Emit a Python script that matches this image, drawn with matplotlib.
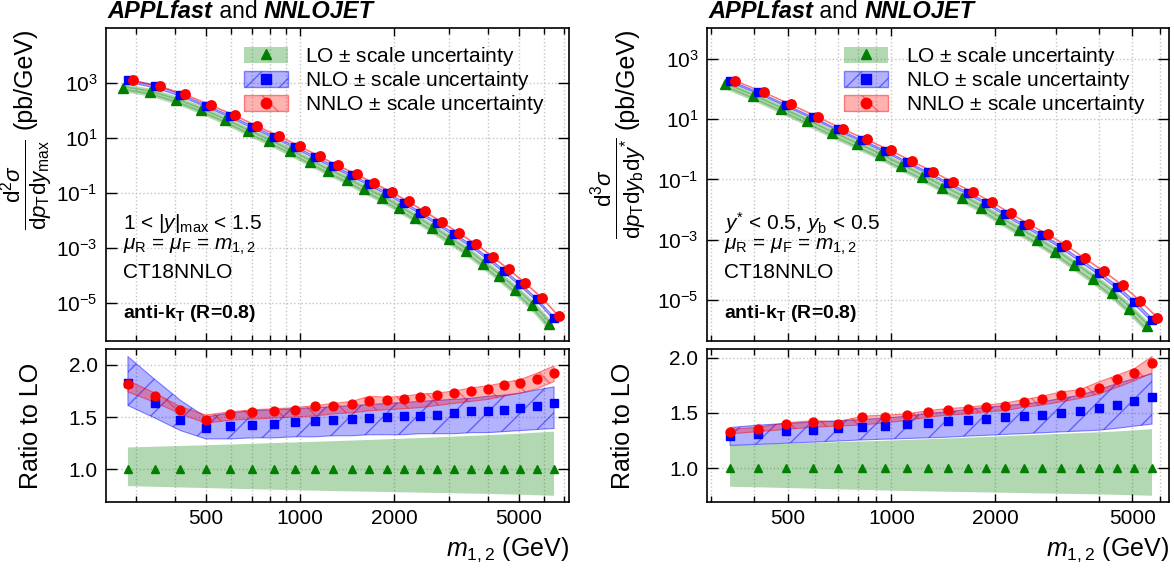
import numpy as np
import matplotlib
matplotlib.use("Agg")
import matplotlib.pyplot as plt
import matplotlib.patches as mpatches
from matplotlib.lines import Line2D
from matplotlib.ticker import FixedLocator, NullFormatter, LogFormatterSciNotation, NullLocator, FixedFormatter

plt.rcParams['font.family'] = ['Liberation Sans', 'DejaVu Sans']
plt.rcParams['mathtext.fontset'] = 'custom'
plt.rcParams['mathtext.rm'] = 'Liberation Sans'
plt.rcParams['mathtext.it'] = 'Liberation Sans:italic'
plt.rcParams['mathtext.bf'] = 'Liberation Sans:bold'
plt.rcParams['axes.linewidth'] = 1.2

# ---------------- data ----------------
# left panel: 1 < |y|max < 1.5
mass_left = [282, 344, 415, 500, 598, 705, 828, 965, 1117, 1273, 1464, 1666,
             1894, 2146, 2420, 2735, 3107, 3528, 3998, 4487, 5060, 5708, 6483]
lo_left = [698, 474, 251, 110, 45, 18, 7.9, 3.3, 1.4, 0.66, 0.31, 0.14, 0.068,
           0.030, 0.013, 0.0054, 0.0021, 8.1e-4, 2.7e-4, 9.5e-5, 3.0e-5, 8.5e-6, 1.7e-6]
lo_up_left = [1.208, 1.215, 1.222, 1.229, 1.236, 1.243, 1.250, 1.256, 1.262, 1.268, 1.274, 1.280,
              1.286, 1.292, 1.298, 1.305, 1.312, 1.319, 1.326, 1.333, 1.340, 1.350, 1.360]
lo_dn_left = [0.837, 0.830, 0.824, 0.818, 0.812, 0.807, 0.802, 0.797, 0.793, 0.789, 0.786, 0.783,
              0.780, 0.777, 0.774, 0.771, 0.768, 0.765, 0.762, 0.758, 0.754, 0.749, 0.744]
nlo_ratio_left = [1.831, 1.633, 1.476, 1.393, 1.409, 1.422, 1.435, 1.450, 1.463, 1.470, 1.479, 1.492,
                  1.502, 1.505, 1.514, 1.524, 1.540, 1.553, 1.562, 1.572, 1.591, 1.604, 1.636]
nlo_up_left = [2.08, 1.86, 1.66, 1.50, 1.54, 1.56, 1.57, 1.58, 1.59, 1.60, 1.61, 1.62,
               1.63, 1.64, 1.65, 1.66, 1.67, 1.68, 1.70, 1.71, 1.73, 1.76, 1.79]
nlo_dn_left = [1.61, 1.49, 1.37, 1.29, 1.29, 1.30, 1.30, 1.31, 1.31, 1.32, 1.32, 1.33,
               1.33, 1.33, 1.34, 1.34, 1.34, 1.35, 1.35, 1.36, 1.37, 1.38, 1.39]
nnlo_ratio_left = [1.815, 1.703, 1.572, 1.476, 1.527, 1.550, 1.556, 1.572, 1.601, 1.607, 1.623, 1.658,
                   1.661, 1.674, 1.696, 1.712, 1.728, 1.751, 1.770, 1.808, 1.824, 1.869, 1.923]
nnlo_up_left = [1.85, 1.73, 1.60, 1.52, 1.55, 1.57, 1.58, 1.59, 1.61, 1.63, 1.65, 1.70,
                1.69, 1.70, 1.72, 1.73, 1.75, 1.78, 1.80, 1.83, 1.86, 1.92, 1.99]
nnlo_dn_left = [1.74, 1.64, 1.53, 1.44, 1.47, 1.48, 1.49, 1.50, 1.51, 1.53, 1.54, 1.56,
                1.57, 1.58, 1.59, 1.61, 1.63, 1.65, 1.67, 1.70, 1.73, 1.77, 1.84]

# right panel: y* < 0.5, yb < 0.5
mass_right = [340, 411, 494, 591, 698, 821, 959, 1106, 1275, 1457, 1664, 1885,
              2139, 2424, 2738, 3102, 3521, 3997, 4515, 5068, 5702]
lo_right = [141, 57.8, 22, 8.4, 3.35, 1.45, 0.64, 0.277, 0.122, 0.054, 0.0253, 0.0118,
            0.00484, 0.00209, 9.7e-4, 4.0e-4, 1.44e-4, 5.2e-5, 1.75e-5, 5.3e-6, 1.38e-6]
lo_up_right = [1.205, 1.213, 1.220, 1.227, 1.234, 1.241, 1.248, 1.255, 1.262, 1.268, 1.275,
               1.282, 1.289, 1.296, 1.303, 1.310, 1.317, 1.324, 1.332, 1.342, 1.352]
lo_dn_right = [0.831, 0.826, 0.820, 0.814, 0.808, 0.803, 0.798, 0.793, 0.789, 0.786, 0.783,
               0.780, 0.777, 0.774, 0.771, 0.768, 0.765, 0.762, 0.758, 0.754, 0.750]
nlo_ratio_right = [1.292, 1.313, 1.334, 1.349, 1.361, 1.373, 1.383, 1.398, 1.410, 1.422, 1.434,
                   1.443, 1.458, 1.467, 1.482, 1.503, 1.521, 1.545, 1.569, 1.605, 1.639]
nlo_up_right = [1.367, 1.389, 1.404, 1.416, 1.428, 1.440, 1.452, 1.470, 1.494, 1.510, 1.530,
                1.550, 1.565, 1.580, 1.600, 1.630, 1.660, 1.710, 1.765, 1.810, 1.855]
nlo_dn_right = [1.205, 1.215, 1.225, 1.235, 1.245, 1.255, 1.262, 1.268, 1.274, 1.280, 1.290,
                1.297, 1.305, 1.312, 1.320, 1.328, 1.335, 1.343, 1.360, 1.380, 1.398]
nnlo_ratio_right = [1.328, 1.355, 1.398, 1.419, 1.395, 1.458, 1.458, 1.479, 1.506, 1.527, 1.539,
                    1.557, 1.566, 1.599, 1.627, 1.666, 1.687, 1.729, 1.804, 1.858, 1.952]
nnlo_up_right = [1.35, 1.37, 1.41, 1.43, 1.42, 1.47, 1.48, 1.49, 1.52, 1.54, 1.55,
                 1.57, 1.59, 1.62, 1.65, 1.69, 1.71, 1.78, 1.84, 1.90, 2.01]
nnlo_dn_right = [1.31, 1.33, 1.35, 1.37, 1.38, 1.39, 1.41, 1.43, 1.46, 1.48, 1.49,
                 1.51, 1.52, 1.55, 1.57, 1.60, 1.63, 1.67, 1.73, 1.79, 1.86]

xticks_major = [500, 1000, 2000, 5000]
xticks_minor = [300, 400, 600, 700, 800, 900, 3000, 4000, 6000, 7000]
yticks_top = [1e-5, 1e-3, 1e-1, 1e1, 1e3]
yticks_ratio = [1.0, 1.5, 2.0]

C_LO, C_NLO, C_NNLO = '#008000', '#0000ff', '#ff0000'
FACE_LO = (0.0, 0.5, 0.0, 0.3)
FACE_NLO = (0.0, 0.0, 1.0, 0.3)
FACE_NNLO = (1.0, 0.0, 0.0, 0.3)
EDGE_NLO = (0.0, 0.0, 1.0, 0.45)
EDGE_NNLO = (1.0, 0.0, 0.0, 0.45)

fig = plt.figure(figsize=(11.74, 5.70), dpi=100)

GRID = dict(color='#c4c4c4', linestyle=':', linewidth=1.0)


def style_axes(ax, xlim):
    ax.set_xscale('log')
    ax.set_xlim(*xlim)
    ax.xaxis.set_major_locator(FixedLocator(xticks_major))
    ax.xaxis.set_minor_locator(FixedLocator(xticks_minor))
    ax.xaxis.set_minor_formatter(NullFormatter())
    ax.tick_params(axis='x', which='major', direction='in', length=5.5, width=1.0,
                   top=True, bottom=True, labelsize=15, pad=5)
    ax.tick_params(axis='x', which='minor', direction='in', length=4.5, width=1.0,
                   top=True, bottom=True)
    ax.tick_params(axis='y', which='major', direction='in', length=8, width=1.0,
                   left=True, right=True, labelsize=15, pad=6)
    ax.yaxis.set_minor_locator(NullLocator())
    ax.grid(True, which='both', axis='x', **GRID)
    ax.grid(True, which='major', axis='y', **GRID)
    ax.set_axisbelow(True)


def panel(left, width, mass, lo, lo_up, lo_dn, nlo_r, nlo_up, nlo_dn,
          nnlo_r, nnlo_up, nnlo_dn, xlim, ylim_top, ylim_rat, frac, unit_x, frac_xy,
          rat_x, notes):
    m = np.array(mass, float)
    lo = np.array(lo, float)
    axt = fig.add_axes([left, 0.4023, width, 0.5491])
    axr = fig.add_axes([left, 0.1198, width, 0.2674])

    # ---- top panel ----
    shift = 1.037
    m_lo, m_nnlo = m / shift, m * shift
    axt.fill_between(m_lo, lo * np.array(lo_dn), lo * np.array(lo_up), facecolor=FACE_LO,
                     edgecolor=FACE_LO, linewidth=2.5, zorder=2)
    nlo = lo * np.array(nlo_r)
    nnlo = lo * np.array(nnlo_r)
    axt.fill_between(m, lo * np.array(nlo_dn), lo * np.array(nlo_up), facecolor=FACE_NLO,
                     edgecolor=EDGE_NLO, linewidth=0.8, zorder=3)
    axt.fill_between(m_nnlo, lo * np.array(nnlo_dn), lo * np.array(nnlo_up), facecolor=FACE_NNLO,
                     edgecolor=EDGE_NNLO, linewidth=0.8, zorder=3)
    axt.plot(m_lo, lo, linestyle='none', marker='^', ms=7, color=C_LO, zorder=5)
    axt.plot(m, nlo, linestyle='none', marker='s', ms=6, color=C_NLO, zorder=6)
    axt.plot(m_nnlo, nnlo, linestyle='none', marker='o', ms=6.8, color=C_NNLO, zorder=7)
    axt.set_yscale('log')
    style_axes(axt, xlim)
    axt.set_ylim(*ylim_top)
    axt.yaxis.set_major_locator(FixedLocator(yticks_top))
    axt.yaxis.set_major_formatter(LogFormatterSciNotation())
    axt.tick_params(axis='x', labelbottom=False)

    # y label: unit and fraction as two rotated texts
    axt.text(unit_x, 1.0, '(pb/GeV)', transform=axt.transAxes, rotation=90,
             fontsize=18, ha='center', va='top')
    axt.text(frac_xy[0], frac_xy[1], frac, transform=axt.transAxes, rotation=90,
             fontsize=23, ha='center', va='center')

    # legend
    h_lo = (mpatches.Patch(facecolor=FACE_LO, edgecolor='none'),
            Line2D([], [], linestyle='none', marker='^', ms=7.5, color=C_LO))
    h_nlo = (mpatches.Patch(facecolor=FACE_NLO, edgecolor=EDGE_NLO, hatch='/', linewidth=1.0),
             Line2D([], [], linestyle='none', marker='s', ms=6.5, color=C_NLO))
    h_nnlo = (mpatches.Patch(facecolor=FACE_NNLO, edgecolor=EDGE_NNLO, hatch='\\', linewidth=1.0),
              Line2D([], [], linestyle='none', marker='o', ms=7.5, color=C_NNLO))
    axt.legend([h_lo, h_nlo, h_nnlo],
               [r'LO $\pm$ scale uncertainty', r'NLO $\pm$ scale uncertainty',
                r'NNLO $\pm$ scale uncertainty'],
               loc='upper left', bbox_to_anchor=(0.298, 0.945), frameon=False, fontsize=15,
               borderpad=0, borderaxespad=0, handlelength=2.1, handleheight=0.8,
               handletextpad=0.85, labelspacing=0.06)

    # annotations
    ys = [0.376, 0.299, 0.219]
    for y, txt in zip(ys, notes):
        axt.text(0.037, y, txt, transform=axt.transAxes, fontsize=15, va='center', ha='left')
    axt.text(0.037, 0.088, r'anti-k$_\mathbf{T}$ (R=0.8)', transform=axt.transAxes,
             fontsize=14, fontweight='bold', va='center', ha='left')

    # title
    t1 = axt.text(0.004, 1.015, 'APPLfast', transform=axt.transAxes, fontsize=17,
                  fontweight='bold', fontstyle='italic', va='bottom', ha='left')
    t2 = axt.annotate(' and ', xy=(1, 0), xycoords=t1, fontsize=16.5, va='bottom', ha='left')
    axt.annotate('NNLOJET', xy=(1, 0), xycoords=t2, fontsize=17, fontweight='bold',
                 fontstyle='italic', va='bottom', ha='left')

    # ---- ratio panel ----
    lo_ratio = lo / lo
    axr.fill_between(m, lo_dn, lo_up, facecolor=FACE_LO, edgecolor='none', zorder=2)
    axr.fill_between(m, nlo_dn, nlo_up, facecolor=FACE_NLO, edgecolor=EDGE_NLO, hatch='/',
                     linewidth=0.8, zorder=3)
    axr.fill_between(m, nnlo_dn, nnlo_up, facecolor=FACE_NNLO, edgecolor=EDGE_NNLO, hatch='\\',
                     linewidth=0.8, zorder=4)
    axr.plot(m, lo_ratio, linestyle='none', marker='^', ms=6.2, color=C_LO, zorder=5)
    axr.plot(m, nlo_r, linestyle='none', marker='s', ms=5.8, color=C_NLO, zorder=6)
    axr.plot(m, nnlo_r, linestyle='none', marker='o', ms=6.4, color=C_NNLO, zorder=7)
    style_axes(axr, xlim)
    axr.set_ylim(*ylim_rat)
    axr.yaxis.set_major_locator(FixedLocator(yticks_ratio))
    axr.yaxis.set_major_formatter(FixedFormatter(['1.0', '1.5', '2.0']))
    axr.xaxis.set_major_formatter(FixedFormatter([str(v) for v in xticks_major]))
    axr.set_ylabel('Ratio to LO', fontsize=18)
    axr.yaxis.set_label_coords(rat_x, 0.5)
    axr.set_xlabel(r'$m_{1,2}$ (GeV)', fontsize=18, loc='right')
    axr.xaxis.set_label_coords(1.0, -0.22)
    return axt, axr


panel(0.0903, 0.3941, mass_left, lo_left, lo_up_left, lo_dn_left, nlo_ratio_left,
      nlo_up_left, nlo_dn_left, nnlo_ratio_left, nnlo_up_left, nnlo_dn_left,
      xlim=(240, 7220), ylim_top=(4.3e-7, 1.05e5), ylim_rat=(0.687, 2.15),
      frac=r'$\frac{\mathrm{d}^2\sigma}{\mathrm{d}p_\mathrm{T}\mathrm{d}y_\mathrm{max}}$',
      unit_x=-0.177, frac_xy=(-0.172, 0.50), rat_x=-0.136,
      notes=[r'$1$ < |$y$|$_\mathrm{max}$ < 1.5',
             r'$\mu_\mathrm{R}$ = $\mu_\mathrm{F}$ = $m_{1,2}$', 'CT18NNLO'])

panel(0.6020, 0.3935, mass_right, lo_right, lo_up_right, lo_dn_right, nlo_ratio_right,
      nlo_up_right, nlo_dn_right, nnlo_ratio_right, nnlo_up_right, nnlo_dn_right,
      xlim=(291, 6375), ylim_top=(4.6e-7, 1.06e4), ylim_rat=(0.696, 2.075),
      frac=r'$\frac{\mathrm{d}^3\sigma}{\mathrm{d}p_\mathrm{T}\mathrm{d}y_\mathrm{b}\mathrm{d}y^{*}}$',
      unit_x=-0.174, frac_xy=(-0.19, 0.488), rat_x=-0.155,
      notes=[r'$y^{*}$ < 0.5, $y_\mathrm{b}$ < 0.5',
             r'$\mu_\mathrm{R}$ = $\mu_\mathrm{F}$ = $m_{1,2}$', 'CT18NNLO'])

fig.savefig('out.png', dpi=100)
